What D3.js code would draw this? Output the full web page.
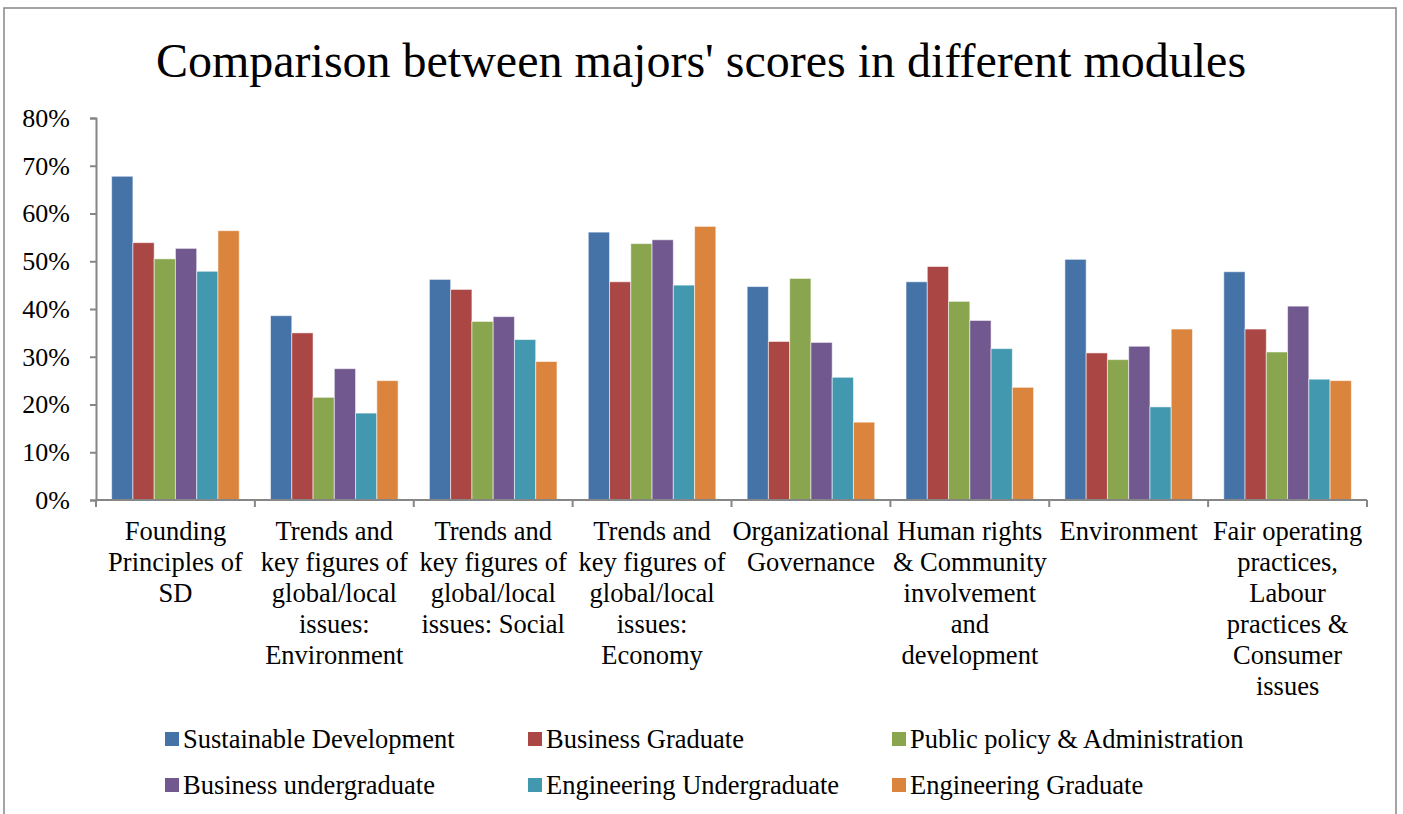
<!DOCTYPE html>
<html>
<head>
<meta charset="utf-8">
<script src="https://cdn.jsdelivr.net/npm/d3@7"></script>
<style>
  html, body { margin: 0; padding: 0; background: #fff; }
  svg { display: block; }
  text { font-family: "Liberation Serif", "Times New Roman", serif; fill: #000; }
</style>
</head>
<body>
<script>
// Modules (x categories); each label is split into its display lines
const modules = [
  ["Founding", "Principles of", "SD"],
  ["Trends and", "key figures of", "global/local", "issues:", "Environment"],
  ["Trends and", "key figures of", "global/local", "issues: Social"],
  ["Trends and", "key figures of", "global/local", "issues:", "Economy"],
  ["Organizational", "Governance"],
  ["Human rights", "& Community", "involvement", "and", "development"],
  ["Environment"],
  ["Fair operating", "practices,", "Labour", "practices &", "Consumer", "issues"]
];

const majors = [
  "Sustainable Development",
  "Business Graduate",
  "Public policy & Administration",
  "Business undergraduate",
  "Engineering Undergraduate",
  "Engineering Graduate"
];

// Scores per major, one value per module (fraction of 1)
const sustainableDevelopment = [0.678, 0.386, 0.462, 0.561, 0.447, 0.457, 0.504, 0.478];
const businessGraduate       = [0.539, 0.350, 0.441, 0.457, 0.332, 0.489, 0.308, 0.358];
const publicPolicy           = [0.505, 0.215, 0.374, 0.537, 0.464, 0.416, 0.294, 0.310];
const businessUndergraduate  = [0.527, 0.275, 0.384, 0.545, 0.330, 0.376, 0.322, 0.406];
const engineeringUndergrad   = [0.479, 0.182, 0.336, 0.450, 0.257, 0.317, 0.195, 0.253];
const engineeringGraduate    = [0.564, 0.250, 0.290, 0.573, 0.163, 0.236, 0.358, 0.250];

const yTicks = [0, 0.1, 0.2, 0.3, 0.4, 0.5, 0.6, 0.7, 0.8];

const seriesValues = [
  sustainableDevelopment, businessGraduate, publicPolicy,
  businessUndergraduate, engineeringUndergrad, engineeringGraduate
];
const colors = ["#4572A7", "#AA4643", "#89A54E", "#71588F", "#4198AF", "#DB843D"];

const W = 1403, H = 814;
const plot = { left: 96, right: 1367, top: 118, bottom: 500 };

const svg = d3.select("body").append("svg")
  .attr("width", W).attr("height", H);

// Chart frame
svg.append("path")
  .attr("d", `M4,${H + 2} V8 H1396 V${H + 2}`)
  .attr("fill", "none").attr("stroke", "#878787").attr("stroke-width", 1.5);

// Title
svg.append("text")
  .attr("x", 701).attr("y", 77)
  .attr("text-anchor", "middle")
  .style("font-size", "48px")
  .text("Comparison between majors' scores in different modules");

const y = d3.scaleLinear().domain([0, 0.8]).range([plot.bottom, plot.top]);
const x0 = d3.scaleBand().domain(d3.range(modules.length)).range([plot.left, plot.right]).padding(0);
const gap = x0.bandwidth() * 0.0985;
const x1 = d3.scaleBand().domain(d3.range(majors.length)).range([gap, x0.bandwidth() - gap]).padding(0);

// Bars
const groups = svg.append("g").selectAll("g")
  .data(modules.map((m, i) => i))
  .join("g")
  .attr("transform", i => `translate(${x0(i)},0)`);

groups.selectAll("rect")
  .data(i => seriesValues.map((vals, s) => ({ s, v: vals[i] })))
  .join("rect")
  .attr("x", d => x1(d.s))
  .attr("y", d => y(d.v))
  .attr("width", x1.bandwidth())
  .attr("height", d => y(0) - y(d.v))
  .attr("fill", d => colors[d.s])
  .attr("stroke", "rgba(255,255,255,0.55)")
  .attr("stroke-width", 1);

// Y axis
const yAxis = svg.append("g")
  .attr("transform", `translate(${plot.left},0)`)
  .call(d3.axisLeft(y).tickValues(yTicks).tickFormat(d3.format(".0%")).tickSize(6).tickPadding(20));
yAxis.select(".domain").attr("stroke", "#868686").attr("stroke-width", 2);
yAxis.selectAll(".tick line").attr("stroke", "#868686").attr("stroke-width", 2);
yAxis.selectAll(".tick text")
  .style("font-family", "'Liberation Serif', serif")
  .style("font-size", "26px").attr("fill", "#000");

// X axis with category boundary ticks
const xAxisG = svg.append("g").attr("transform", `translate(0,${plot.bottom})`);
xAxisG.append("line")
  .attr("x1", plot.left).attr("x2", plot.right)
  .attr("stroke", "#868686").attr("stroke-width", 2);
xAxisG.selectAll("line.tk")
  .data(d3.range(modules.length + 1))
  .join("line").attr("class", "tk")
  .attr("x1", i => i < modules.length ? x0(i) : plot.right)
  .attr("x2", i => i < modules.length ? x0(i) : plot.right)
  .attr("y1", 0).attr("y2", 7)
  .attr("stroke", "#868686").attr("stroke-width", 2);

// Category labels
const labels = svg.append("g").selectAll("text")
  .data(modules)
  .join("text")
  .attr("text-anchor", "middle")
  .style("font-size", "26.5px")
  .attr("transform", (d, i) => `translate(${x0(i) + x0.bandwidth() / 2},540)`);
labels.selectAll("tspan")
  .data(d => d)
  .join("tspan")
  .attr("x", 0)
  .attr("y", (d, k) => k * 31)
  .text(d => d);

// Legend
const legendCols = [165, 528, 892];
const legendRows = [739, 785];
const legend = svg.append("g").selectAll("g")
  .data(majors)
  .join("g")
  .attr("transform", (d, i) => `translate(${legendCols[i % 3]},${legendRows[Math.floor(i / 3)]})`);
legend.append("rect")
  .attr("x", 0).attr("y", -7).attr("width", 14).attr("height", 14)
  .attr("fill", (d, i) => colors[i]);
legend.append("text")
  .attr("x", 18).attr("y", 9)
  .style("font-size", "26.5px")
  .text(d => d);
</script>
</body>
</html>
